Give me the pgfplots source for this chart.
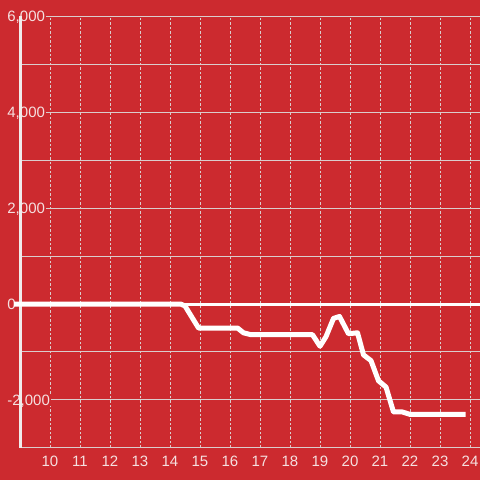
\documentclass[border=0pt]{standalone}
\usepackage{pgfplots}
\pgfplotsset{compat=1.18}
\usepackage{fontspec}
\setmainfont{Liberation Sans}
\definecolor{bg}{RGB}{204,42,47}
\definecolor{txt}{RGB}{245,224,224}
\definecolor{gridc}{RGB}{218,205,205}
\begin{document}
\begin{tikzpicture}[x=1pt,y=1pt]
\fill[bg] (0,0) rectangle (480,480);
\begin{axis}[at={(20pt,32pt)}, anchor=south west,
  width=460pt, height=432pt, scale only axis,
  xmin=9, xmax=24.3333, ymin=-3000, ymax=6000,
  clip=false,
  axis line style={draw=none},
  xtick={10,...,24},
  ytick={-2000,0,2000,4000,6000},
  yticklabels={{-2,000},{0},{2,000},{4,000},{6,000}},
  minor ytick={-3000,-1000,1000,3000,5000},
  xmajorgrids, ymajorgrids, yminorgrids,
  x grid style={gridc, line width=0.8pt, dash pattern=on 2.5pt off 2pt},
  y grid style={gridc, line width=1pt},
  major tick length=0pt, minor tick length=0pt,
  tick style={draw=none},
  /pgf/number format/assume math mode=true,
  ticklabel style={font=\fontsize{15pt}{17pt}\selectfont, text=txt},
  xticklabel style={anchor=center, yshift=-13pt, text height=10.5pt, text depth=0pt},
  yticklabel style={anchor=west, xshift=-14pt, fill=bg, inner sep=1.2pt, text height=10.5pt, text depth=0pt},
]
\addplot[draw={rgb,255:red,240;green,236;blue,236}, line width=3pt] coordinates {(9,-3000) (9,6000)};
\addplot[draw=white, line width=3pt] coordinates {(8.8,0) (24.3333,0)};
\addplot[draw=white, line width=5pt, line join=round] coordinates {
(8.8,0) (14.35,0) (14.5,-40) (14.95,-500) (16.25,-500) (16.45,-600) (16.7,-640)
(18.75,-640) (19.0,-880) (19.2,-680) (19.45,-300) (19.65,-260) (19.95,-620)
(20.25,-600) (20.45,-1060) (20.7,-1180) (20.95,-1600) (21.2,-1730)
(21.45,-2250) (21.75,-2250) (22.0,-2300) (23.85,-2300)};
\end{axis}
\pgfresetboundingbox
\useasboundingbox (0,0) rectangle (480,480);
\end{tikzpicture}
\end{document}
